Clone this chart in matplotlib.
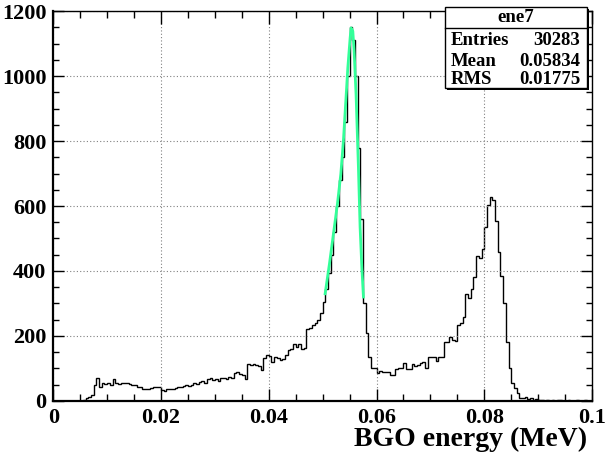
import numpy as np
import matplotlib
matplotlib.use("Agg")
import matplotlib.pyplot as plt
from matplotlib.patches import Rectangle
from matplotlib.ticker import MultipleLocator, FuncFormatter

# histogram of BGO energy, 200 bins from 0 to 0.1 MeV
x_min = 0.0
x_max = 0.1
counts = [
    0, 0, 0, 0, 0, 0, 0, 0, 0, 0,
    0, 2, 8, 12, 18, 49, 70, 44, 54, 52,
    55, 50, 67, 55, 52, 55, 54, 55, 52, 50,
    48, 44, 42, 36, 38, 36, 40, 44, 42, 44,
    35, 30, 38, 36, 38, 40, 44, 42, 46, 48,
    45, 48, 56, 52, 58, 60, 55, 68, 70, 65,
    68, 62, 70, 72, 68, 75, 72, 85, 88, 82,
    80, 67, 115, 112, 115, 110, 108, 95, 132, 140,
    138, 120, 135, 133, 125, 128, 140, 156, 161, 176,
    166, 176, 161, 163, 220, 225, 233, 240, 250, 270,
    305, 345, 395, 450, 520, 600, 680, 750, 860, 1000,
    1150, 1110, 1000, 780, 560, 300, 210, 136, 100, 100,
    85, 93, 90, 88, 90, 80, 80, 97, 100, 100,
    118, 97, 97, 113, 107, 110, 118, 121, 100, 134,
    136, 136, 124, 134, 136, 182, 182, 196, 188, 185,
    233, 240, 258, 330, 316, 346, 381, 447, 440, 468,
    535, 604, 629, 619, 553, 458, 386, 300, 182, 100,
    56, 39, 24, 10, 8, 11, 6, 8, 4, 5,
    3, 2, 1, 2, 0, 2, 1, 2, 2, 1,
    0, 2, 1, 1, 2, 0, 1, 2, 1, 0,
]

# fitted peak curve
fit_x = [0.05046, 0.05126, 0.0520, 0.05274, 0.05337, 0.05385, 0.0543, 0.05467,
         0.0551, 0.05528, 0.0556, 0.05584, 0.0562, 0.05664, 0.05695, 0.05727, 0.05757]
fit_y = [330, 422, 514, 606, 698, 800, 923, 1025,
         1117, 1148, 1138, 1077, 944, 719, 535, 412, 320]

stat_title = "ene7"
stat_names = ["Entries", "Mean", "RMS"]
stat_values = ["30283", "0.05834", "0.01775"]

plt.rcParams['font.family'] = ['Liberation Serif', 'DejaVu Serif']
plt.rcParams['font.weight'] = 'bold'

fig = plt.figure(figsize=(6.07, 4.55), dpi=100)
ax = fig.add_axes([0.0878, 0.1187, 0.8875, 0.8571])

edges = np.linspace(x_min, x_max, len(counts) + 1)
ax.stairs(counts, edges, color="black", linewidth=1.0, baseline=None)
ax.plot(fit_x, fit_y, color="#33ff99", linewidth=2.0)

ax.set_xlim(x_min, x_max)
ax.set_ylim(0, 1200)
ax.xaxis.set_major_locator(MultipleLocator(0.02))
ax.xaxis.set_minor_locator(MultipleLocator(0.005))
ax.yaxis.set_major_locator(MultipleLocator(200))
ax.yaxis.set_minor_locator(MultipleLocator(50))
ax.xaxis.set_major_formatter(FuncFormatter(lambda v, p: "%g" % round(v, 3)))

ax.tick_params(which="both", direction="in", top=True, right=True, labelsize=16)
ax.tick_params(axis="x", which="major", length=9, width=1, pad=5)
ax.tick_params(axis="x", which="minor", length=5, width=1)
ax.tick_params(axis="y", which="major", length=8, width=1, pad=5)
ax.tick_params(axis="y", which="minor", length=4.5, width=1)
ax.grid(True, which="major", linestyle=(0, (1, 2)), color="gray", linewidth=0.8)

for side in ["left", "bottom"]:
    ax.spines[side].set_linewidth(1.6)
for side in ["top", "right"]:
    ax.spines[side].set_linewidth(1.0)

fig.text(587 / 607, 1 - 446 / 455, "BGO energy (MeV)", ha="right", va="baseline",
         fontsize=20, fontweight="bold")

# stats box
bx0, bx1 = 445 / 607, 587 / 607
by0, by1 = 1 - 88 / 455, 1 - 7 / 455
fig.patches.append(Rectangle((bx0 + 0.004, by0 - 0.005), bx1 - bx0, by1 - by0,
                             transform=fig.transFigure, facecolor="black", edgecolor="none", zorder=5))
fig.patches.append(Rectangle((bx0, by0), bx1 - bx0, by1 - by0, transform=fig.transFigure,
                             facecolor="white", edgecolor="black", linewidth=1.0, zorder=6))
sep_y = 1 - 28 / 455
fig.lines.append(plt.Line2D([bx0, bx1], [sep_y, sep_y], transform=fig.transFigure,
                            color="black", linewidth=1.0, zorder=7))
fig.text((bx0 + bx1) / 2, 1 - 18 / 455, stat_title, ha="center", va="center",
         fontsize=13.5, fontweight="bold", zorder=8)
row_y = [40.5, 61, 80]
for name, val, yy in zip(stat_names, stat_values, row_y):
    fig.text(451 / 607, 1 - yy / 455, name, ha="left", va="center", fontsize=13.5,
             fontweight="bold", zorder=8)
    fig.text(580 / 607, 1 - yy / 455, val, ha="right", va="center", fontsize=13.5,
             fontweight="bold", zorder=8)

fig.savefig("out.png", dpi=100)
